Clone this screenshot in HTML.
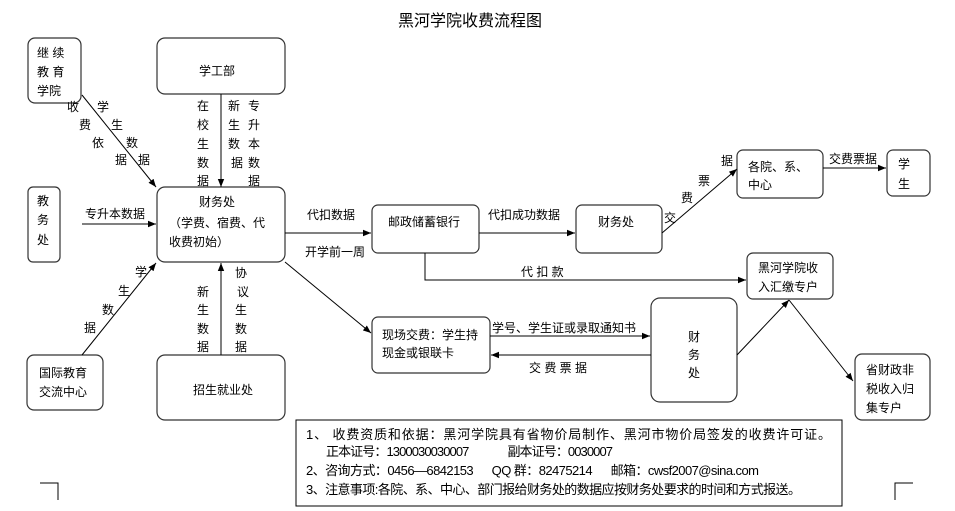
<!DOCTYPE html>
<html><head><meta charset="utf-8"><style>
html,body{margin:0;padding:0;background:#fff;}
svg{display:block;font-family:"Liberation Sans","Noto Sans CJK SC","WenQuanYi Zen Hei",sans-serif;}
text{font-size:12px;fill:#000;}
.b{fill:#fff;stroke:#333;stroke-width:1.2;}
.l{stroke:#000;stroke-width:1;fill:none;}
</style></head><body>
<svg width="955" height="511" viewBox="0 0 955 511">
<defs><marker id="a" viewBox="0 0 10 10" refX="10" refY="5" markerWidth="8" markerHeight="8" orient="auto"><path d="M0,1 L10,5 L0,9 z" fill="#000"/></marker></defs>
<text x="398" y="26" style="font-size:16px">黑河学院收费流程图</text>

<rect class="b" x="28" y="38" width="53" height="65" rx="7"/>
<text x="37" y="57">继 续</text><text x="37" y="76">教 育</text><text x="37" y="95">学院</text>
<rect class="b" x="157" y="38" width="128" height="56" rx="8"/>
<text x="199" y="75">学工部</text>
<rect class="b" x="28" y="187" width="32" height="75" rx="5"/>
<text x="37" y="205">教</text><text x="37" y="224">务</text><text x="37" y="244">处</text>
<rect class="b" x="157" y="187" width="128" height="75" rx="8"/>
<text x="199" y="206">财务处</text><text x="169" y="227">（学费、宿费、代</text><text x="169" y="246">收费初始）</text>
<rect class="b" x="27" y="355" width="76" height="55" rx="7"/>
<text x="39" y="377">国际教育</text><text x="39" y="396">交流中心</text>
<rect class="b" x="157" y="355" width="128" height="65" rx="8"/>
<text x="193" y="394">招生就业处</text>
<rect class="b" x="372" y="205" width="107" height="48" rx="6"/>
<text x="388" y="226">邮政储蓄银行</text>
<rect class="b" x="576" y="205" width="86" height="48" rx="6"/>
<text x="598" y="226">财务处</text>
<rect class="b" x="737" y="150" width="86" height="48" rx="6"/>
<text x="748" y="171">各院、系、</text><text x="748" y="189">中心</text>
<rect class="b" x="887" y="150" width="43" height="46" rx="6"/>
<text x="898" y="168">学</text><text x="898" y="188">生</text>
<rect class="b" x="747" y="253" width="86" height="46" rx="6"/>
<text x="758" y="272">黑河学院收</text><text x="758" y="291">入汇缴专户</text>
<rect class="b" x="372" y="317" width="118" height="56" rx="6"/>
<text x="382" y="339">现场交费：学生持</text><text x="382" y="357">现金或银联卡</text>
<rect class="b" x="651" y="298" width="86" height="104" rx="9"/>
<text x="688" y="341">财</text><text x="688" y="359">务</text><text x="688" y="377">处</text>
<rect class="b" x="855" y="354" width="75" height="66" rx="7"/>
<text x="866" y="374">省财政非</text><text x="866" y="393">税收入归</text><text x="866" y="412">集专户</text>

<line class="l" x1="82" y1="95" x2="156" y2="187" marker-end="url(#a)"/>
<line class="l" x1="221" y1="94" x2="221" y2="187" marker-end="url(#a)"/>
<line class="l" x1="82" y1="224" x2="156" y2="224" marker-end="url(#a)"/>
<line class="l" x1="82" y1="355" x2="156" y2="263" marker-end="url(#a)"/>
<line class="l" x1="221" y1="355" x2="221" y2="263" marker-end="url(#a)"/>
<line class="l" x1="285" y1="233" x2="371" y2="233" marker-end="url(#a)"/>
<line class="l" x1="285" y1="262" x2="371" y2="333" marker-end="url(#a)"/>
<line class="l" x1="479" y1="233" x2="575" y2="233" marker-end="url(#a)"/>
<polyline class="l" points="425,253 425,280 746,280" marker-end="url(#a)"/>
<line class="l" x1="662" y1="233" x2="737" y2="169" marker-end="url(#a)"/>
<line class="l" x1="823" y1="168" x2="886" y2="168" marker-end="url(#a)"/>
<line class="l" x1="490" y1="336" x2="650" y2="336" marker-end="url(#a)"/>
<line class="l" x1="651" y1="355" x2="491" y2="355" marker-end="url(#a)"/>
<line class="l" x1="737" y1="355" x2="789" y2="300" marker-end="url(#a)"/>
<line class="l" x1="789" y1="300" x2="853" y2="381" marker-end="url(#a)"/>

<text x="67" y="111">收</text><text x="79" y="129">费</text><text x="92" y="147">依</text><text x="115" y="164">据</text>
<text x="97" y="111">学</text><text x="111" y="129">生</text><text x="126" y="147">数</text><text x="138" y="164">据</text>
<text x="197" y="110">在</text><text x="197" y="129">校</text><text x="197" y="148">生</text><text x="197" y="167">数</text><text x="197" y="185">据</text>
<text x="228" y="110">新</text><text x="228" y="129">生</text><text x="228" y="148">数</text><text x="231" y="167">据</text>
<text x="248" y="110">专</text><text x="248" y="129">升</text><text x="248" y="148">本</text><text x="248" y="167">数</text><text x="248" y="185">据</text>
<text x="85" y="218">专升本数据</text>
<text x="135" y="276">学</text><text x="118" y="295">生</text><text x="102" y="314">数</text><text x="84" y="332">据</text>
<text x="197" y="296">新</text><text x="197" y="314">生</text><text x="197" y="333">数</text><text x="197" y="351">据</text>
<text x="235" y="277">协</text><text x="237" y="296">议</text><text x="235" y="314">生</text><text x="235" y="333">数</text><text x="235" y="351">据</text>
<text x="307" y="219">代扣数据</text>
<text x="305" y="256">开学前一周</text>
<text x="488" y="219">代扣成功数据</text>
<text x="521" y="276">代 扣 款</text>
<text x="664" y="222">交</text><text x="681" y="202">费</text><text x="698" y="185">票</text><text x="721" y="165">据</text>
<text x="829" y="163">交费票据</text>
<text x="492" y="332">学号、学生证或录取通知书</text>
<text x="529" y="372">交 费 票 据</text>

<rect x="296" y="420" width="546" height="86" fill="#fff" stroke="#000" stroke-width="1"/>
<text x="306" y="439" style="font-size:13px" textLength="525" lengthAdjust="spacing">1、 收费资质和依据：黑河学院具有省物价局制作、黑河市物价局签发的收费许可证。</text>
<text x="326" y="456" style="font-size:13px" textLength="287" lengthAdjust="spacing">正本证号：1300030030007 　　　副本证号：0030007</text>
<text x="306" y="475" style="font-size:13px" textLength="453" lengthAdjust="spacing">2、咨询方式：0456—6842153 　 QQ 群：82475214 　 邮箱：cwsf2007@sina.com</text>
<text x="306" y="494" style="font-size:13px" textLength="495" lengthAdjust="spacing">3、注意事项:各院、系、中心、部门报给财务处的数据应按财务处要求的时间和方式报送。</text>

<polyline class="l" points="40,483 58,483 58,500" stroke="#999"/>
<polyline class="l" points="913,483 895,483 895,500" stroke="#999"/>
</svg>
</body></html>
